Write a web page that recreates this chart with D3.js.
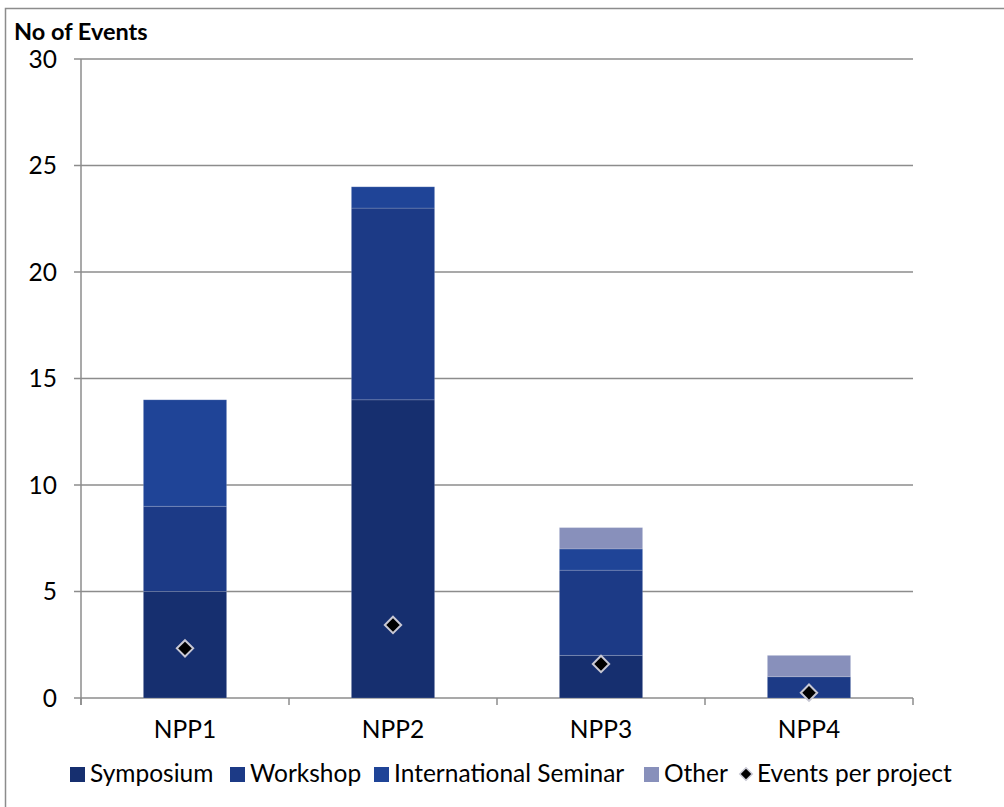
<!DOCTYPE html>
<html><head><meta charset="utf-8">
<script src="https://cdn.jsdelivr.net/npm/d3@7"></script>
<style>body{margin:0;background:#fff;}svg{display:block;font-family:"Lato","Open Sans",sans-serif;}</style>
</head><body>
<svg id="c" width="1004" height="807"></svg>
<script>
const categories = ["NPP1","NPP2","NPP3","NPP4"];
const seriesNames = ["Symposium","Workshop","International Seminar","Other"];
const symposium = [5,14,2,0];
const workshop = [4,9,4,1];
const intlSeminar = [5,1,1,0];
const other = [0,0,1,1];
const eventsPerProject = [2.33,3.43,1.6,0.25];
const yTicks = [0,5,10,15,20,25,30];
const colors = ["#162f6f","#1c3a86","#1f4497","#8890bb"];
const FS = 24.5;

const svg = d3.select("#c");
svg.append("rect").attr("x",5.5).attr("y",8.5).attr("width",1010).attr("height",820)
  .attr("fill","#fff").attr("stroke","#8c8c8c").attr("stroke-width",1.5);

const L=81,R=913,T=59,B=698;
const x = d3.scaleBand().domain(categories).range([L,R]).paddingInner(0.6).paddingOuter(0.3);
const xb = d3.scaleBand().domain(categories).range([L,R]);
const y = d3.scaleLinear().domain([0,30]).range([B,T]);

svg.append("g").selectAll("line").data(yTicks).join("line")
  .attr("x1",74).attr("x2",R).attr("y1",d=>y(d)).attr("y2",d=>y(d))
  .attr("stroke","#8c8c8c").attr("stroke-width",1.5);
svg.append("line").attr("x1",L).attr("x2",L).attr("y1",T).attr("y2",B+7).attr("stroke","#8c8c8c").attr("stroke-width",1.5);
const xt=[L,...categories.map(c=>xb(c)+xb.bandwidth())];
svg.append("g").selectAll("line").data(xt).join("line")
  .attr("x1",d=>d).attr("x2",d=>d).attr("y1",B).attr("y2",B+7).attr("stroke","#8c8c8c").attr("stroke-width",1.5);

svg.append("g").selectAll("text").data(yTicks).join("text")
  .attr("x",57).attr("y",d=>y(d)).attr("dy","0.36em").attr("text-anchor","end")
  .attr("font-size",FS).attr("fill","#000").text(d=>d);
svg.append("text").attr("x",14).attr("y",40).attr("font-size",23.5).attr("font-weight","bold").text("No of Events");

const rows = categories.map((c,i)=>({cat:c,Symposium:symposium[i],Workshop:workshop[i],"International Seminar":intlSeminar[i],Other:other[i]}));
const stack = d3.stack().keys(seriesNames)(rows);
stack.forEach((s,si)=>{
  svg.append("g").selectAll("rect").data(s.filter(d=>d[1]-d[0]>0)).join("rect")
    .attr("x",d=>x(d.data.cat)).attr("width",x.bandwidth())
    .attr("y",d=>y(d[1])).attr("height",d=>y(d[0])-y(d[1]))
    .attr("fill",colors[si]).attr("stroke","rgba(255,255,255,0.15)").attr("stroke-width",1);
});

const diamond = d3.symbol().type(d3.symbolDiamond2).size(170);
svg.append("g").selectAll("path").data(eventsPerProject).join("path")
  .attr("transform",(d,i)=>`translate(${x(categories[i])+x.bandwidth()/2},${y(d)})`)
  .attr("d",diamond).attr("fill","#000").attr("stroke","#c8c8d4").attr("stroke-width",2);

svg.append("g").selectAll("text").data(categories).join("text")
  .attr("x",c=>x(c)+x.bandwidth()/2).attr("y",738).attr("text-anchor","middle")
  .attr("font-size",FS).text(d=>d);

const leg = [
  {n:"Symposium",c:colors[0],x:70},
  {n:"Workshop",c:colors[1],x:230},
  {n:"International Seminar",c:colors[2],x:374},
  {n:"Other",c:colors[3],x:644}
];
const lg = svg.append("g");
leg.forEach(l=>{
  lg.append("rect").attr("x",l.x).attr("y",767).attr("width",15).attr("height",15).attr("fill",l.c);
  lg.append("text").attr("x",l.x+20).attr("y",782).attr("font-size",FS).text(l.n);
});
lg.append("path").attr("transform","translate(746,774)").attr("d",d3.symbol().type(d3.symbolDiamond2).size(100))
  .attr("fill","#000").attr("stroke","#c8c8d4").attr("stroke-width",1.5);
lg.append("text").attr("x",757).attr("y",782).attr("font-size",FS).text("Events per project");
</script>
</body></html>
